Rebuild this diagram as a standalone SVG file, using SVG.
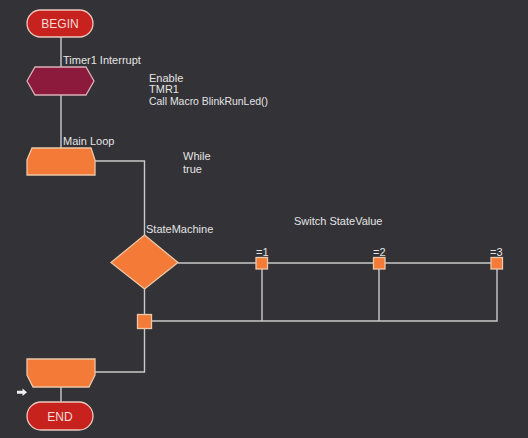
<svg xmlns="http://www.w3.org/2000/svg" width="528" height="438" viewBox="0 0 528 438">
<style>
text{font-family:"Liberation Sans",Arial,sans-serif;font-size:11px;fill:#e4e4e4}
.term{fill:#c8221f;stroke:#e9c9bd;stroke-width:1.3}
.term-t{font-size:12px;fill:#f3dcd6;text-anchor:middle}
.orange{fill:#f47a38;stroke:#ecc8a8;stroke-width:1.3}
.macro{fill:#8c1a3c;stroke:#d9b0b8;stroke-width:1.3}
.wire{fill:none;stroke:#c9c9c9;stroke-width:1.4}
</style>
<rect width="528" height="438" fill="#333237"/>
<g id="connectors">
<path class="wire" d="M61 37V67M61 95V148M95 161H144.5V235M144.5 288V372H95M178 263H497V321H144.5M262 263V321M379 263V321M61 387V402"/>
</g>
<g id="begin">
<rect class="term" x="27" y="10" width="66" height="27" rx="13.5"/>
<text class="term-t" x="60" y="28">BEGIN</text>
</g>
<g id="timer1">
<polygon class="macro" points="27,81 35,67 86,67 94,81 86,95 35,95"/>
<text x="63" y="64">Timer1 Interrupt</text>
<text x="149" y="82">Enable</text>
<text x="149" y="93">TMR1</text>
<text x="149" y="104.5" textLength="119" lengthAdjust="spacingAndGlyphs">Call Macro BlinkRunLed()</text>
</g>
<g id="mainloop">
<polygon class="orange" points="32,148 91,148 95,160 95,175 27,175 27,160"/>
<text x="63" y="145">Main Loop</text>
<text x="183" y="160">While</text>
<text x="183" y="173">true</text>
</g>
<g id="statemachine">
<polygon class="orange" points="144.5,235 178,262.5 144.5,289 111,262.5"/>
<text x="146" y="233">StateMachine</text>
<text x="294" y="225">Switch StateValue</text>
</g>
<g id="case1">
<rect class="orange" x="256" y="257.5" width="11.5" height="11.5"/>
<text x="256" y="256">=1</text>
</g>
<g id="case2">
<rect class="orange" x="373.5" y="257.5" width="11.5" height="11.5"/>
<text x="373" y="256">=2</text>
</g>
<g id="case3">
<rect class="orange" x="491" y="257.5" width="11.5" height="11.5"/>
<text x="490" y="256">=3</text>
</g>
<g id="merge">
<rect class="orange" x="137.5" y="314.5" width="14" height="14"/>
</g>
<g id="loopend">
<polygon class="orange" points="27,359 95,359 95,375 89,387 33,387 27,375"/>
</g>
<g id="pointer">
<path d="M17 390.8H22.5V388.5L27 392.3L22.5 396V393.8H17Z" fill="#f0f0f0"/>
</g>
<g id="end">
<rect class="term" x="27" y="402" width="66" height="28" rx="14"/>
<text class="term-t" x="60" y="420.5">END</text>
</g>
</svg>
